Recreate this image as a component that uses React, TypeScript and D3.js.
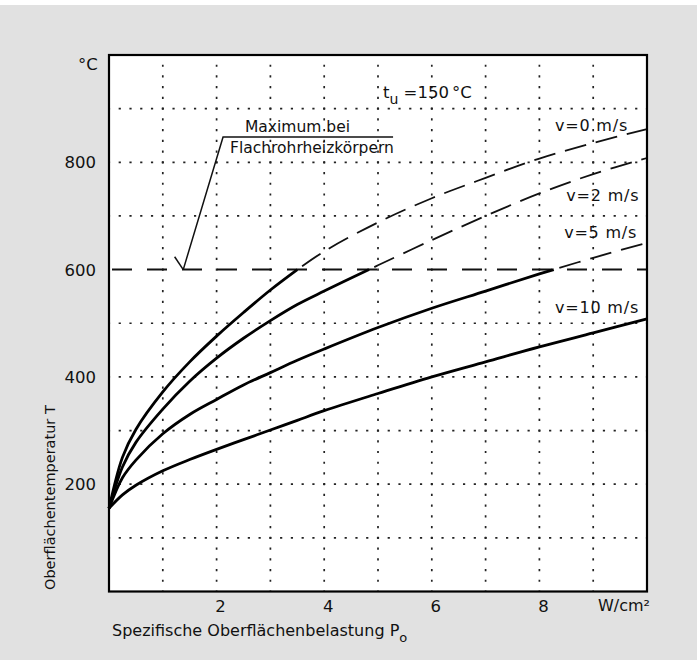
import React, { useEffect } from 'react';
import * as d3 from 'd3';

// ---- data ----
const loads = [0, 0.25, 0.5, 1, 1.5, 2, 2.5, 3, 3.5, 4, 5, 6, 7, 8, 9, 10];
const tempV0 = [155, 250, 302, 372, 428, 476, 520, 562, 600, 634, 688, 733, 771, 807, 836, 862];
const tempV2 = [155, 232, 278, 340, 392, 435, 472, 505, 535, 560, 608, 655, 700, 742, 778, 808];
const tempV5 = [155, 212, 245, 294, 330, 358, 385, 408, 431, 452, 492, 528, 560, 592, 622, 650];
const tempV10 = [155, 180, 198, 225, 246, 265, 283, 301, 319, 337, 369, 400, 428, 456, 482, 508];
const seriesLabels = ['v=0 m/s', 'v=2 m/s', 'v=5 m/s', 'v=10 m/s'];
const maxTemp = 600;
const xTicks = [2, 4, 6, 8];
const yTicks = [200, 400, 600, 800];
const xGrid = [1, 2, 3, 4, 5, 6, 7, 8, 9];
const yGrid = [100, 200, 300, 400, 500, 700, 800, 900];
const xUnit = 'W/cm²';
const yUnit = '°C';
const xTitle = 'Spezifische Oberflächenbelastung P';
const xTitleSub = 'o';
const yTitle = 'Oberflächentemperatur T';
const noteLines = ['Maximum bei', 'Flachrohrheizkörpern'];
const ambient = ['t', 'u', ' =150', '°C'];

// ---- layout ----
const W = 697;
const H = 660;
const left = 109, right = 647, top = 55, bottom = 591.5;
const font = '"DejaVu Sans", sans-serif';

// label positions in data coordinates
const labelAt: [number, number][] = [[8.29, 859], [8.5, 727], [8.46, 658], [8.29, 519]];
// annotation arrow, in data coordinates
const noteEnd: [number, number] = [5.28, 847];
const noteElbow: [number, number] = [2.12, 847];
const noteTip: [number, number] = [1.38, 600];
const noteBarb: [number, number] = [1.22, 624];

function splitAt(xs: number[], ys: number[], lim: number) {
  const solid: [number, number][] = [];
  const dashed: [number, number][] = [];
  for (let i = 0; i < xs.length; i++) {
    if (ys[i] <= lim && dashed.length === 0) {
      solid.push([xs[i], ys[i]]);
    } else {
      if (dashed.length === 0) {
        const x0 = xs[i - 1], y0 = ys[i - 1];
        let cross: [number, number];
        if (y0 === lim) cross = [x0, y0];
        else {
          const t = (lim - y0) / (ys[i] - y0);
          cross = [x0 + t * (xs[i] - x0), lim];
          solid.push(cross);
        }
        dashed.push(cross);
      }
      dashed.push([xs[i], ys[i]]);
    }
  }
  return { solid, dashed };
}

export default function App() {
  useEffect(() => {
    document.body.style.margin = '0';
  }, []);

  const x = d3.scaleLinear().domain([0, 10]).range([left, right]);
  const y = d3.scaleLinear().domain([0, 1000]).range([bottom, top]);
  const line = d3
    .line<[number, number]>()
    .x((d) => x(d[0]))
    .y((d) => y(d[1]))
    .curve(d3.curveCatmullRom.alpha(0.5));

  const series = [tempV0, tempV2, tempV5, tempV10].map((t) => splitAt(loads, t, maxTemp));
  const cellX = (x(1) - x(0)) / 5;
  const cellY = (y(0) - y(100)) / 5;

  return (
    <svg
      width={W}
      height={H}
      style={{ position: 'absolute', left: 0, top: 0, display: 'block' }}
      fontFamily={font}
    >
      <rect x={0} y={0} width={W} height={H} fill="#ffffff" />
      <rect x={0} y={5} width={W} height={H - 5} fill="#e1e1e1" />
      <rect x={left} y={top} width={right - left} height={bottom - top} fill="#ffffff" />

      {/* dotted grid */}
      {xGrid.map((g) => (
        <line
          key={'vx' + g}
          x1={x(g)}
          x2={x(g)}
          y1={bottom}
          y2={top}
          stroke="#222"
          strokeWidth={1.7}
          strokeDasharray={`2.2 ${cellY - 2.2}`}
          strokeDashoffset={1.1}
        />
      ))}
      {yGrid.map((g) => (
        <line
          key={'hy' + g}
          x1={left}
          x2={right}
          y1={y(g)}
          y2={y(g)}
          stroke="#222"
          strokeWidth={1.7}
          strokeDasharray={`2.2 ${cellX - 2.2}`}
          strokeDashoffset={1.1}
        />
      ))}

      {/* maximum line */}
      <line
        x1={left}
        x2={right}
        y1={y(maxTemp)}
        y2={y(maxTemp)}
        stroke="#111"
        strokeWidth={2}
        strokeDasharray="20 15"
        strokeDashoffset={-3}
      />

      {/* curves */}
      {series.map((s, i) => (
        <g key={'s' + i}>
          <path d={line(s.solid) || ''} fill="none" stroke="#000" strokeWidth={2.8} strokeLinejoin="round" />
          {s.dashed.length > 1 && (
            <path
              d={line(s.dashed) || ''}
              fill="none"
              stroke="#111"
              strokeWidth={1.8}
              strokeDasharray="22 10"
              strokeDashoffset={-6}
            />
          )}
        </g>
      ))}

      {/* series labels */}
      {seriesLabels.map((l, i) => (
        <text key={l} x={x(labelAt[i][0])} y={y(labelAt[i][1])} fontSize={16} fill="#111" letterSpacing={0.8}>
          {l}
        </text>
      ))}

      {/* annotation */}
      <polyline
        points={[noteEnd, noteElbow, noteTip].map((p) => `${x(p[0])},${y(p[1])}`).join(' ')}
        fill="none"
        stroke="#111"
        strokeWidth={1.5}
      />
      <line x1={x(noteBarb[0])} y1={y(noteBarb[1])} x2={x(noteTip[0])} y2={y(noteTip[1])} stroke="#111" strokeWidth={1.5} />
      <text x={245} y={132} fontSize={15.5} fill="#111">
        {noteLines[0]}
      </text>
      <text x={230} y={153} fontSize={15.5} fill="#111">
        {noteLines[1]}
      </text>

      {/* ambient temperature */}
      <text x={383} y={98} fontSize={16.5} fill="#111">
        {ambient[0]}
        <tspan dy={6} fontSize={14}>
          {ambient[1]}
        </tspan>
        <tspan dy={-6}>{ambient[2]}</tspan>
        <tspan dx={3}>{ambient[3]}</tspan>
      </text>

      {/* frame */}
      <rect x={left} y={top} width={right - left} height={bottom - top} fill="none" stroke="#000" strokeWidth={2.2} />

      {/* y ticks */}
      {yTicks.map((t) => (
        <text key={'yt' + t} x={96} y={y(t) + 6} fontSize={16.5} textAnchor="end" fill="#111">
          {t}
        </text>
      ))}
      <text x={78} y={70} fontSize={16.5} fill="#111">
        {yUnit}
      </text>

      {/* x ticks */}
      {xTicks.map((t) => (
        <text key={'xt' + t} x={x(t) + 4} y={612} fontSize={16.5} textAnchor="middle" fill="#111">
          {t}
        </text>
      ))}
      <text x={598} y={611} fontSize={16} fill="#111">
        {xUnit}
      </text>

      {/* axis titles */}
      <text x={112} y={636} fontSize={16} fill="#111">
        {xTitle}
        <tspan dy={6} fontSize={13}>
          {xTitleSub}
        </tspan>
      </text>
      <text transform={`translate(55, 590) rotate(-90)`} fontSize={14.5} fill="#111">
        {yTitle}
      </text>
    </svg>
  );
}
